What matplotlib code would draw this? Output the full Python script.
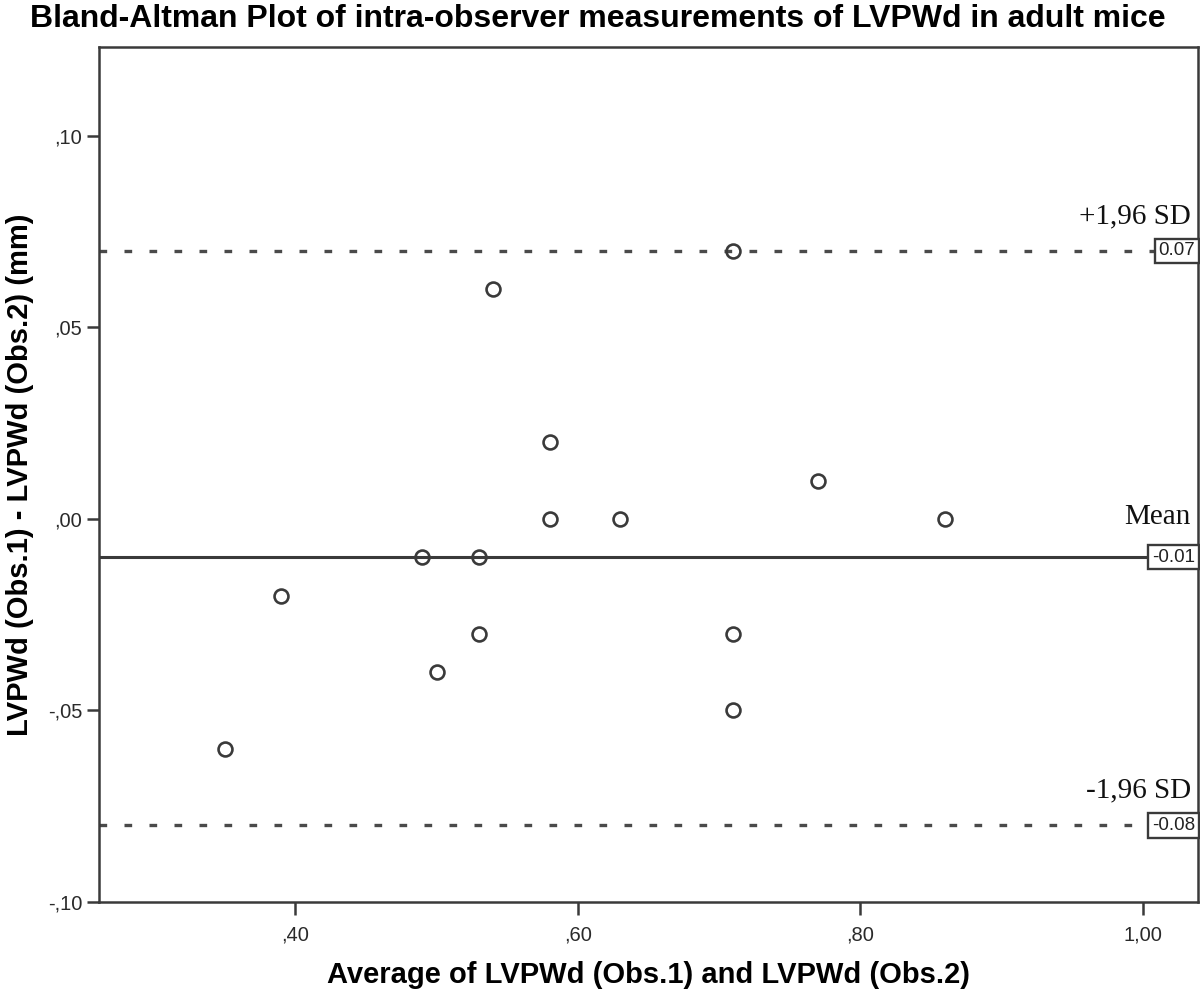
import numpy as np
import matplotlib
matplotlib.use('Agg')
import matplotlib.pyplot as plt
import matplotlib.transforms as mtransforms

# Data
avg = [0.35, 0.39, 0.49, 0.50, 0.53, 0.53, 0.54, 0.58, 0.58, 0.63, 0.71, 0.71, 0.71, 0.77, 0.86]
diff = [-0.06, -0.02, -0.01, -0.04, -0.01, -0.03, 0.06, 0.02, 0.00, 0.00, 0.07, -0.03, -0.05, 0.01, 0.00]

mean_diff = -0.01
upper = 0.07
lower = -0.08

xticks = [0.40, 0.60, 0.80, 1.00]
xticklabels = [',40', ',60', ',80', '1,00']
yticks = [-0.10, -0.05, 0.00, 0.05, 0.10]
yticklabels = ['-,10', '-,05', ',00', ',05', ',10']

line_col = '#3a3a3a'

fig = plt.figure(figsize=(12, 9.94), dpi=100)
ax = fig.add_axes([0.0825, 0.0926, 0.9158, 0.8601])

# reference lines
ax.axhline(mean_diff, color=line_col, lw=2.2, zorder=1)
ax.axhline(upper, color='#4a4a4a', lw=2.4, linestyle=(0, (2.3, 5.2)), zorder=1)
ax.axhline(lower, color='#4a4a4a', lw=2.4, linestyle=(0, (2.3, 5.2)), zorder=1)

# points
ax.plot(avg, diff, 'o', mfc='none', mec=line_col, mew=1.9, ms=10, zorder=2)

ax.set_xlim(0.261, 1.039)
ax.set_ylim(-0.10, 0.1232)

ax.set_xticks(xticks)
ax.set_xticklabels(xticklabels)
ax.set_yticks(yticks)
ax.set_yticklabels(yticklabels)
ax.tick_params(direction='out', length=9, width=1.8, color=line_col,
               labelsize=14.5, labelcolor='#2a2a2a', pad=3)
ax.tick_params(axis='x', pad=8)
for lab in ax.get_xticklabels() + ax.get_yticklabels():
    lab.set_family('Liberation Sans')

for sp in ax.spines.values():
    sp.set_linewidth(1.8)
    sp.set_color(line_col)

# line labels
trans = mtransforms.blended_transform_factory(ax.transAxes, ax.transData)
for val, name, txt, off in [(upper, '+1,96 SD', '0.07', 0.0072),
                            (mean_diff, 'Mean', '-0.01', 0.0088),
                            (lower, '-1,96 SD', '-0.08', 0.0072)]:
    ax.text(0.9935, val + off, name, transform=trans, ha='right', va='baseline',
            fontsize=21, family='Liberation Serif', color='#111111')
    ax.text(0.9975, val, txt, transform=trans, ha='right', va='center',
            fontsize=13.5, family='Liberation Sans', color='#222222',
            bbox=dict(boxstyle='square,pad=0.2', fc='white', ec=line_col, lw=1.7))

ax.set_xlabel('Average of LVPWd (Obs.1) and LVPWd (Obs.2)', fontsize=21,
              fontweight='bold', family='Liberation Sans', labelpad=12)
ax.set_ylabel('LVPWd (Obs.1) - LVPWd (Obs.2) (mm)', fontsize=21,
              fontweight='bold', family='Liberation Sans', labelpad=10)
fig.text(0.025, 0.981, 'Bland-Altman Plot of intra-observer measurements of LVPWd in adult mice',
         fontsize=23, fontweight='bold', family='Liberation Sans', va='center', ha='left')

fig.savefig('out.png', dpi=100, facecolor='white')
